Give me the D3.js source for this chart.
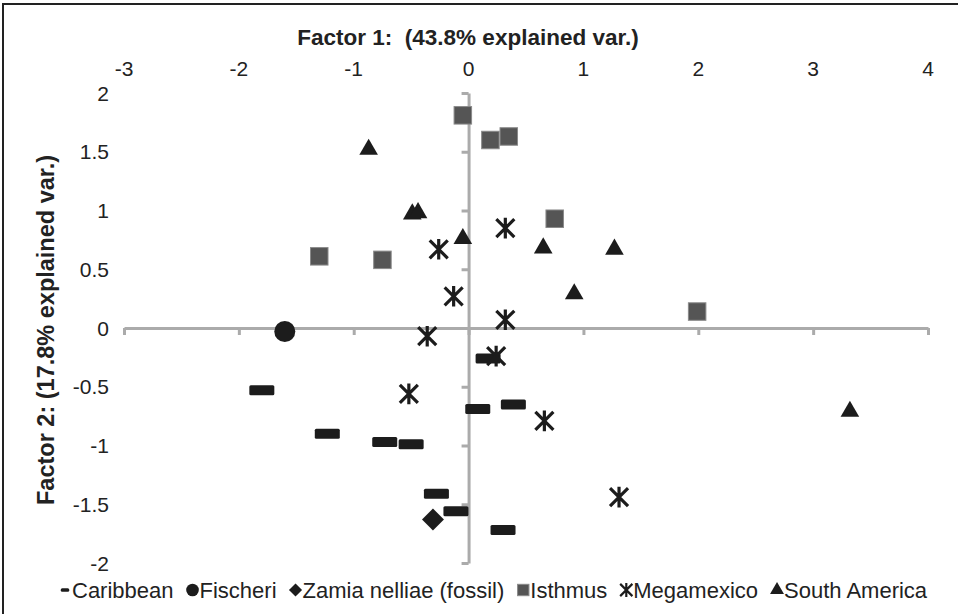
<!DOCTYPE html>
<html>
<head>
<meta charset="utf-8">
<script src="https://cdn.jsdelivr.net/npm/d3@7"></script>
<style>
  body { margin: 0; background: #fff; }
  svg { display: block; font-family: "Liberation Sans", Arial, sans-serif; }
</style>
</head>
<body>
<svg width="958" height="614"></svg>
<script>
// factor scores, [factor1, factor2]
const caribbean = [[-1.80, -0.53], [-1.23, -0.90], [-0.73, -0.97], [-0.50, -0.99], [-0.28, -1.41],
  [-0.11, -1.56], [0.30, -1.72], [0.08, -0.69], [0.39, -0.65], [0.17, -0.26]]
const fischeri = [[-1.60, -0.03]]
const zamia = [[-0.31, -1.63]]
const isthmus = [[-0.05, 1.81], [0.19, 1.60], [0.35, 1.63], [0.75, 0.93], [-1.30, 0.61], [-0.75, 0.58], [1.99, 0.14]]
const megamexico = [[0.32, 0.85], [-0.26, 0.67], [-0.13, 0.27], [0.32, 0.07], [-0.36, -0.07], [0.24, -0.24],
  [-0.52, -0.56], [0.66, -0.79], [1.31, -1.44]]
const southAmerica = [[-0.87, 1.52], [-0.49, 0.97], [-0.44, 0.98], [-0.05, 0.76], [0.65, 0.68], [1.27, 0.67],
  [0.92, 0.29], [3.32, -0.71]]

const xTicks = [-3, -2, -1, 0, 1, 2, 3, 4]
const yTicks = [-2, -1.5, -1, -0.5, 0, 0.5, 1, 1.5, 2]

const svg = d3.select('svg')
const x = d3.scaleLinear().domain([-3, 4]).range([124, 928])
const y = d3.scaleLinear().domain([-2, 2]).range([563, 93])
const axisColor = '#ababab'
const ink = '#1c1c1c'

// frame (only top and left edges show in the picture)
svg.append('path')
  .attr('d', 'M3,614V4H958')
  .attr('fill', 'none')
  .attr('stroke', '#222')
  .attr('stroke-width', 2)

// axes crossing at the origin
const xAxis = svg.append('g')
  .attr('transform', `translate(0,${y(0)})`)
  .call(d3.axisBottom(x).tickValues(xTicks).tickSize(7).tickSizeOuter(0).tickFormat(''))
const yAxis = svg.append('g')
  .attr('transform', `translate(${x(0)},0)`)
  .call(d3.axisLeft(y).tickValues(yTicks).tickSize(7).tickSizeOuter(0).tickFormat(''))

for (const g of [xAxis, yAxis]) {
  g.select('.domain').attr('stroke', axisColor).attr('stroke-width', 3)
  g.selectAll('.tick line').attr('stroke', axisColor).attr('stroke-width', 3)
}

// tick labels sit at the chart edges, not on the axes
svg.append('g').selectAll('text')
  .data(xTicks)
  .join('text')
  .attr('x', d => x(d))
  .attr('y', 76)
  .attr('text-anchor', 'middle')
  .attr('font-size', 21)
  .attr('fill', '#222')
  .text(d => d)

svg.append('g').selectAll('text')
  .data(yTicks)
  .join('text')
  .attr('x', 109)
  .attr('y', d => y(d) + 7.5)
  .attr('text-anchor', 'end')
  .attr('font-size', 21)
  .attr('fill', '#222')
  .text(d => d)

svg.append('text')
  .attr('x', 468)
  .attr('y', 45)
  .attr('text-anchor', 'middle')
  .attr('font-size', 22.5)
  .attr('font-weight', 'bold')
  .attr('fill', '#222')
  .style('white-space', 'pre')
  .text('Factor 1:  (43.8% explained var.)')

svg.append('text')
  .attr('transform', 'translate(54,330) rotate(-90)')
  .attr('text-anchor', 'middle')
  .attr('font-size', 23.5)
  .attr('font-weight', 'bold')
  .attr('fill', '#222')
  .text('Factor 2: (17.8% explained var.)')

// marker drawers, s = scale (1 for the plot, smaller for the legend)
const asterisk = (s) => {
  const r = 9 * s
  return `M${-r},${-r}L${r},${r}M${-r},${r}L${r},${-r}M0,${-r * 1.15}V${r * 1.15}`
}
const markers = {
  caribbean: (g, s) => g.append('rect')
    .attr('x', -12.5 * s).attr('y', -5 * s).attr('width', 25 * s).attr('height', 10 * s)
    .attr('rx', 1.5).attr('fill', ink),
  fischeri: (g, s) => g.append('circle').attr('r', 10.5 * s).attr('fill', ink),
  zamia: (g, s) => g.append('path')
    .attr('d', d3.symbol(d3.symbolSquare, 240 * s * s)())
    .attr('transform', 'rotate(45)').attr('fill', ink),
  isthmus: (g, s) => g.append('rect')
    .attr('x', -8.75 * s).attr('y', -8.75 * s).attr('width', 17.5 * s).attr('height', 17.5 * s)
    .attr('fill', '#555').attr('stroke', '#8a8a8a').attr('stroke-width', 1),
  megamexico: (g, s) => g.append('path')
    .attr('d', asterisk(s)).attr('fill', 'none').attr('stroke', ink).attr('stroke-width', 3.2 * s),
  southAmerica: (g, s) => g.append('path')
    .attr('d', d3.symbol(d3.symbolTriangle, 150 * s * s)()).attr('fill', ink)
}

const series = [
  { key: 'caribbean', name: 'Caribbean', values: caribbean },
  { key: 'fischeri', name: 'Fischeri', values: fischeri },
  { key: 'zamia', name: 'Zamia nelliae (fossil)', values: zamia },
  { key: 'isthmus', name: 'Isthmus', values: isthmus },
  { key: 'megamexico', name: 'Megamexico', values: megamexico },
  { key: 'southAmerica', name: 'South America', values: southAmerica }
]

const plot = svg.append('g')
series.forEach(sr => {
  plot.append('g').selectAll('g')
    .data(sr.values)
    .join('g')
    .attr('transform', d => `translate(${x(d[0])},${y(d[1])})`)
    .each(function() { markers[sr.key](d3.select(this), 1) })
})

// legend along the bottom
const legendScale = { caribbean: 0.34, fischeri: 0.6, zamia: 0.6, isthmus: 0.65, megamexico: 0.68, southAmerica: 0.75 }
const legend = svg.append('g').attr('transform', 'translate(0,590)')
let lx = 61
series.forEach(sr => {
  const item = legend.append('g').attr('transform', `translate(${lx},0)`)
  const m = item.append('g').attr('transform', 'translate(4,0)')
  markers[sr.key](m, legendScale[sr.key])
  const t = item.append('text')
    .attr('x', 11)
    .attr('y', 7.8)
    .attr('font-size', 22)
    .attr('fill', '#222')
    .text(sr.name)
  lx += 11 + t.node().getComputedTextLength() + 15
})
</script>
</body>
</html>
